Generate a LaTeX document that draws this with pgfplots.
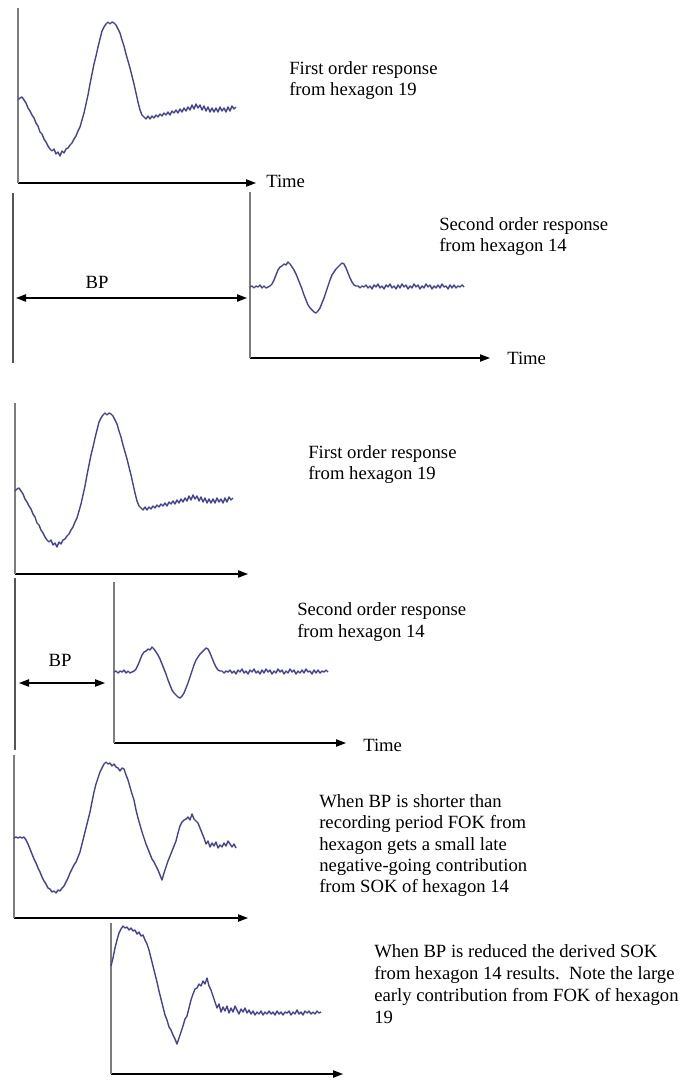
\documentclass[border=0pt]{standalone}
\usepackage{pgfplots}
\pgfplotsset{compat=1.18}
\usepackage{pgfplotstable}
\usetikzlibrary{arrows.meta}
\usepackage{fontspec}
\setmainfont{Liberation Serif}
\definecolor{tracecol}{RGB}{68,68,150}
\definecolor{axgray}{RGB}{125,125,125}
\definecolor{markcol}{RGB}{85,85,85}

% first order kernel, hexagon 19 (time, amplitude)
\pgfplotstableread{
t a
0 83
2 85
4 86
6 83
8 80
10 75
12 72
14 68
16 65
18 60
20 57
22 51
24 49
26 44
28 41
30 37
32 34
34 32
36 34
38 29
40 31
42 27
44 32
46 30
48 34
50 35
52 38
54 40
56 44
58 47
60 52
62 56
64 63
66 70
68 79
70 88
72 99
74 109
76 119
78 127
80 136
82 144
84 152
86 156
88 159
90 161
92 159
94 161
96 160
98 158
100 154
102 150
104 143
106 137
108 129
110 122
112 115
114 107
116 99
118 90
120 81
122 73
124 68
126 66
128 64
130 67
132 64
134 67
136 65
138 68
140 66
142 69
144 67
146 70
148 68
150 71
152 68
154 72
156 70
158 73
160 70
162 74
164 71
166 75
168 72
170 76
172 73
174 78
176 74
178 79
180 75
182 78
184 73
186 77
188 72
190 76
192 71
194 75
196 71
198 75
200 71
202 76
204 72
206 75
208 71
210 76
212 72
214 77
216 74
218 76
}\fok

% second order kernel, hexagon 14
\pgfplotstableread{
t a
0 71
2 72
4 70
6 72
8 71
10 73
12 70
14 72
16 70
18 71
20 72
22 74
24 78
26 83
28 88
30 91
32 92
34 94
36 93
38 96
40 94
42 91
44 88
46 84
48 79
50 74
52 69
54 63
56 58
58 53
60 50
62 48
64 46
66 45
68 47
70 50
72 55
74 60
76 66
78 72
80 78
82 83
84 86
86 89
88 91
90 93
92 95
94 94
96 90
98 85
100 80
102 76
104 73
106 72
108 72
110 70
112 72
114 71
116 73
118 70
120 72
122 69
124 73
126 71
128 74
130 70
132 72
134 69
136 73
138 71
140 74
142 70
144 72
146 69
148 73
150 70
152 74
154 71
156 73
158 69
160 72
162 70
164 74
166 71
168 73
170 69
172 72
174 70
176 74
178 71
180 73
182 69
184 72
186 70
188 73
190 70
192 74
194 71
196 72
198 69
200 73
202 70
204 73
206 70
208 72
210 71
212 73
214 71
}\sok

% FOK with short BP
\pgfplotstableread{
t a
0 80
2 81
4 80
6 81
8 80
10 81
12 78
14 74
16 69
18 64
20 59
22 55
24 50
26 46
28 41
30 37
32 34
34 30
36 29
38 26
40 27
42 25
44 28
46 27
48 30
50 32
52 36
54 40
56 45
58 49
60 53
62 56
64 61
66 66
68 74
70 82
72 90
74 98
76 106
78 116
80 126
82 134
84 140
86 146
88 150
90 154
92 156
94 154
96 155
98 152
100 154
102 151
104 150
106 147
108 150
110 149
112 143
114 138
116 131
118 124
120 118
122 108
124 100
126 93
128 86
130 80
132 74
134 69
136 64
138 59
140 56
142 52
144 48
146 43
148 38
150 45
152 51
154 57
156 62
158 67
160 72
162 77
164 85
166 92
168 96
170 98
172 99
174 101
176 98
178 104
180 99
182 97
184 95
186 90
188 85
190 80
192 74
194 77
196 71
198 75
200 72
202 76
204 70
206 73
208 71
210 75
212 72
214 77
216 74
218 71
220 74
222 70
}\fokshort

% derived SOK with reduced BP
\pgfplotstableread{
t a
0 108
2 116
4 126
6 134
8 141
10 145
12 148
14 146
16 147
18 144
20 146
22 143
24 144
26 140
28 142
30 138
32 139
34 134
36 130
38 124
40 116
42 108
44 100
46 92
48 83
50 75
52 67
54 59
56 54
58 47
60 44
62 39
64 35
66 30
68 36
70 42
72 48
74 55
76 58
78 66
80 74
82 80
84 85
86 86
88 90
90 88
92 93
94 90
96 96
98 88
100 84
102 78
104 72
106 66
108 70
110 62
112 67
114 63
116 68
118 61
120 66
122 62
124 68
126 64
128 60
130 65
132 62
134 66
136 61
138 64
140 60
142 63
144 59
146 62
148 60
150 63
152 59
154 62
156 60
158 63
160 60
162 62
164 59
166 63
168 60
170 62
172 59
174 62
176 61
178 63
180 59
182 62
184 60
186 64
188 60
190 62
192 59
194 63
196 61
198 63
200 60
202 62
204 60
206 63
208 61
210 62
}\sokreduced

\pgfplotsset{
  panel/.style={
    scale only axis, anchor=south west,
    axis x line=bottom, axis y line=left,
    ticks=none, enlargelimits=false, clip=false,
    xmin=0, ymin=0,
    x axis line style={black, line width=0.9pt, -{Triangle[length=7.5pt,width=5.5pt]}},
    y axis line style={axgray, line width=1.1pt, -},
  },
  kernel/.style={tracecol, line width=1.05pt, line join=round, no markers},
}

\begin{document}
\begin{tikzpicture}[x=0.75pt, y=0.75pt, font=\fontsize{14}{16}\selectfont,
  lbl/.style={anchor=base west, inner sep=0pt}]
\useasboundingbox (0,0) rectangle (687,-1084);

% ---- panel 1: first order response
\begin{axis}[panel, at={(18,-183)}, width=178.5pt, height=131.25pt, xmax=238, ymax=175]
  \addplot[kernel] table[x=t, y=a] {\fok};
\end{axis}
\node[lbl] at (266,-188) {Time};
\node[lbl] at (289,-75) {First order response};
\node[lbl] at (289,-96) {from hexagon 19};

% ---- panel 2: second order response after BP
\draw[markcol, line width=1.1pt] (13,-193) -- (13,-363);
\draw[black, line width=0.9pt, {Triangle[length=7.5pt,width=5.5pt]}-{Triangle[length=7.5pt,width=5.5pt]}] (16,-298) -- (247,-298);
\node[anchor=base, inner sep=0pt] at (97,-288) {BP};
\begin{axis}[panel, at={(250,-358)}, width=180pt, height=124.5pt, xmax=240, ymax=166]
  \addplot[kernel] table[x=t, y=a] {\sok};
\end{axis}
\node[lbl] at (507,-364) {Time};
\node[lbl] at (439,-230) {Second order response};
\node[lbl] at (439,-252) {from hexagon 14};

% ---- panel 3: first order response
\begin{axis}[panel, at={(15,-574)}, width=174.75pt, height=128.25pt, xmax=233, ymax=171]
  \addplot[kernel] table[x=t, y=a] {\fok};
\end{axis}
\node[lbl] at (308,-458) {First order response};
\node[lbl] at (308,-479) {from hexagon 19};

% ---- panel 4: second order response, shorter BP
\draw[markcol, line width=1.1pt] (15,-578) -- (15,-750);
\draw[black, line width=0.9pt, {Triangle[length=7.5pt,width=5.5pt]}-{Triangle[length=7.5pt,width=5.5pt]}] (19,-683) -- (105,-683);
\node[anchor=base, inner sep=0pt] at (60,-666) {BP};
\begin{axis}[panel, at={(114,-743)}, width=174pt, height=120.75pt, xmax=232, ymax=161]
  \addplot[kernel] table[x=t, y=a] {\sok};
\end{axis}
\node[lbl] at (363,-751) {Time};
\node[lbl] at (297,-615) {Second order response};
\node[lbl] at (297,-637) {from hexagon 14};

% ---- panel 5: FOK when BP shorter than recording period
\begin{axis}[panel, at={(14,-918)}, width=175.5pt, height=122.25pt, xmax=234, ymax=163]
  \addplot[kernel] table[x=t, y=a] {\fokshort};
\end{axis}
\node[lbl] at (319,-807) {When BP is shorter than};
\node[lbl] at (319,-828) {recording period FOK from};
\node[lbl] at (319,-850) {hexagon gets a small late};
\node[lbl] at (319,-871) {negative-going contribution};
\node[lbl] at (319,-892) {from SOK of hexagon 14};

% ---- panel 6: derived SOK when BP reduced
\begin{axis}[panel, at={(111,-1074)}, width=174pt, height=113.25pt, xmax=232, ymax=151]
  \addplot[kernel] table[x=t, y=a] {\sokreduced};
\end{axis}
\node[lbl] at (374,-957) {When BP is reduced the derived SOK};
\node[lbl] at (374,-979) {from hexagon 14 results.\ \ Note the large};
\node[lbl] at (374,-1001) {early contribution from FOK of hexagon};
\node[lbl] at (374,-1023) {19};
\end{tikzpicture}
\end{document}
